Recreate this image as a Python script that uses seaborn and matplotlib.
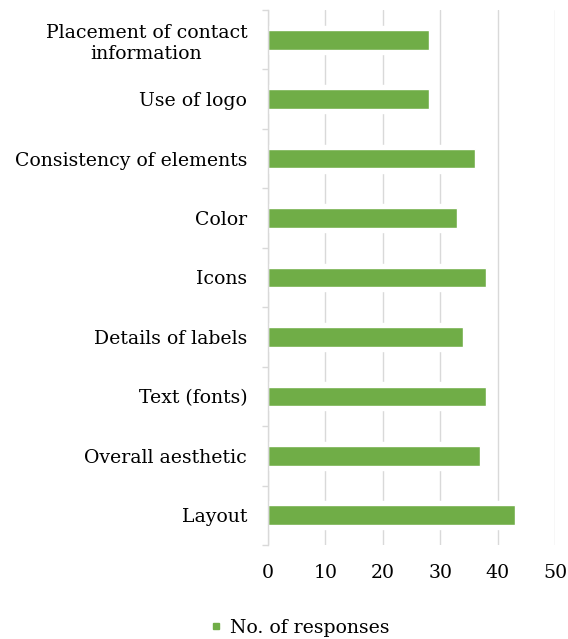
import matplotlib
matplotlib.use("Agg")
import matplotlib.pyplot as plt
import seaborn as sns
import pandas as pd
import numpy as np
from matplotlib.lines import Line2D
from matplotlib.ticker import FixedLocator

categories = ["Placement of contact\ninformation", "Use of logo", "Consistency of elements",
              "Color", "Icons", "Details of labels", "Text (fonts)", "Overall aesthetic", "Layout"]
responses = [28, 28, 36, 33, 38, 34, 38, 37, 43]
series_name = "No. of responses"
xticks = [0, 10, 20, 30, 40, 50]

df = pd.DataFrame({"Aspect": categories, series_name: responses})

sns.set_theme(style="white")
plt.rcParams['font.family'] = ['DejaVu Serif']

fig = plt.figure(figsize=(5.68, 6.39), dpi=100)
ax = fig.add_axes([268/568, 1-545/639, (555-268)/568, (545-10)/639])

green = "#70AD47"
fs = 13.6
# white halo behind bars (gridline gaps)
sns.barplot(data=df, y="Aspect", x=series_name, color="white", width=0.47,
            saturation=1, ax=ax, orient="h", zorder=2)
sns.barplot(data=df, y="Aspect", x=series_name, color=green, width=0.33,
            saturation=1, ax=ax, orient="h", zorder=3)

ax.set_xlim(0, 50)
ax.set_ylim(len(categories)-0.5, -0.5)
ax.set_xticks(xticks)
ax.set_xlabel("")
ax.set_ylabel("")
ax.grid(axis="x", color="#D9D9D9", linewidth=1.0, zorder=1)
ax.set_axisbelow(True)
for s in ["top", "right", "bottom"]:
    ax.spines[s].set_visible(False)
ax.spines["left"].set_color("#D9D9D9")
ax.spines["left"].set_linewidth(1.0)
ax.spines["left"].set_zorder(4)

ax.yaxis.set_minor_locator(FixedLocator(np.arange(-0.5, len(categories), 1.0)))
ax.tick_params(axis="y", which="minor", length=4, width=1.0, color="#D9D9D9", left=True)
ax.tick_params(axis="y", which="major", length=0, pad=15, labelsize=fs, labelcolor="black")
ax.tick_params(axis="x", which="major", length=0, pad=14, labelsize=fs, labelcolor="black")
for lbl in ax.get_yticklabels():
    lbl.set_multialignment("center")

handle = Line2D([], [], marker="s", linestyle="none", color=green, markersize=5)
fig.legend([handle], [series_name], loc="center", bbox_to_anchor=(0.528, 1-628/639),
           frameon=False, fontsize=fs, handlelength=0.6, handletextpad=0.4,
           labelcolor="black")

fig.savefig("out.png", dpi=100)
